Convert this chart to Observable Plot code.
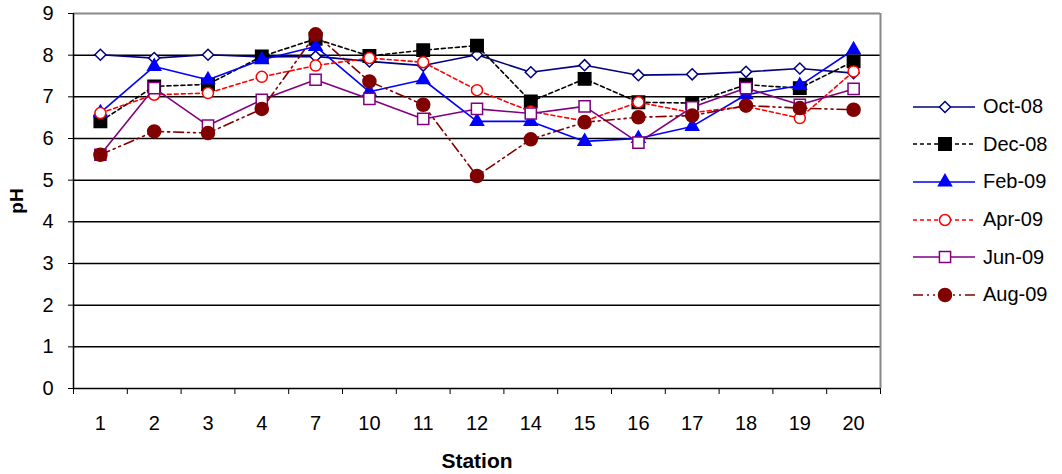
<!DOCTYPE html>
<html><head><meta charset="utf-8">
<script src="https://cdn.jsdelivr.net/npm/d3@7"></script>
<script src="https://cdn.jsdelivr.net/npm/@observablehq/plot@0.6"></script>
<style>
body{margin:0;background:#fff;font-family:"Liberation Sans",Arial,sans-serif;}
#wrap{position:relative;width:1062px;height:474px;overflow:hidden;}
#legend{position:absolute;left:913px;top:88px;}
.row{display:flex;align-items:center;height:37.6px;font-size:20px;color:#000;}
.row svg{margin-right:6px;}
g[aria-label="y-axis label"] text{font-weight:bold;font-size:19px;}
g[aria-label="x-axis label"] text{font-weight:bold;font-size:21px;}
</style></head><body><div id="wrap"></div>
<script>
const stations = ["1","2","3","4","7","10","11","12","14","15","16","17","18","19","20"];
const oct08 = [8.01,7.93,8.01,7.96,7.97,7.85,7.75,8.01,7.59,7.76,7.52,7.54,7.60,7.68,7.57];
const dec08 = [6.41,7.25,7.30,7.97,8.39,7.98,8.12,8.23,6.89,7.43,6.87,6.85,7.29,7.21,7.85];
const feb09 = [6.62,7.73,7.41,7.89,8.21,7.12,7.41,6.41,6.41,5.93,6.00,6.29,7.05,7.27,8.13];
const apr09 = [6.61,7.05,7.09,7.48,7.75,7.93,7.83,7.16,6.65,6.42,6.87,6.62,6.77,6.49,7.61];
const jun09 = [5.61,7.21,6.31,6.93,7.41,6.95,6.47,6.71,6.60,6.77,5.90,6.75,7.21,6.81,7.19];
const aug09 = [5.61,6.17,6.13,6.71,8.50,7.37,6.81,5.10,5.98,6.39,6.51,6.55,6.79,6.73,6.69];
const seriesNames = ["Oct-08","Dec-08","Feb-09","Apr-09","Jun-09","Aug-09"];
const seriesValues = [oct08, dec08, feb09, apr09, jun09, aug09];
const yTicks = [0,1,2,3,4,5,6,7,8,9];

const colors = ["#000080","#000000","#0000FF","#FF0000","#800080","#800000"];
const dashes = [null,"4,3",null,"4,3",null,"10,4,2,4,2,4"];
const symbols = ["diamond2","square","triangle","circle","square","circle"];
const fills = ["#fff","#000","#0000FF","#fff","#fff","#800000"];
const radii = [5,7,4.8,5.5,6.3,6.5];

const seriesMarks = [];
seriesValues.forEach((vals, s) => {
  const data = vals.map((v, i) => ({i, v}));
  seriesMarks.push(Plot.line(data, {x:"i", y:"v", stroke:colors[s], strokeWidth:1.6, strokeDasharray:dashes[s] || undefined}));
  seriesMarks.push(Plot.dot(data, {x:"i", y:"v", symbol:symbols[s], r:radii[s], fill:fills[s], stroke:colors[s], strokeWidth:1.5}));
});

const chart = Plot.plot({
  width:1062, height:474,
  marginLeft:73, marginRight:182, marginTop:13, marginBottom:86,
  style:{fontFamily:'"Liberation Sans",Arial,sans-serif', fontSize:"20px", color:"#000", background:"#fff"},
  x:{type:"linear", domain:[-0.5, stations.length-0.5]},
  y:{domain:[0,9]},
  marks:[
    Plot.ruleY(yTicks.filter(t => t > 0 && t < 9), {stroke:"#000", strokeWidth:1.5}),
    Plot.ruleY([9], {stroke:"#888", strokeWidth:2}),
    Plot.ruleX([stations.length-0.5], {stroke:"#888", strokeWidth:2}),
    Plot.ruleY([0], {stroke:"#000", strokeWidth:1.5}),
    Plot.ruleX([-0.5], {stroke:"#000", strokeWidth:1.5}),
    Plot.axisY({ticks:yTicks, tickSize:5, tickPadding:15, fontSize:20, label:"pH", labelAnchor:"center", labelArrow:"none", labelOffset:64}),
    Plot.axisX({ticks:d3.range(stations.length), tickSize:0, tickPadding:27, fontSize:20, tickFormat:i => stations[i], label:null}),
    Plot.axisX({ticks:d3.range(-0.5, stations.length, 1), tickSize:6, tickFormat:() => "", fontSize:20, label:"Station", labelAnchor:"center", labelArrow:"none", labelOffset:79}),
    ...seriesMarks
  ]
});
const wrap = document.getElementById("wrap");
wrap.appendChild(chart);

const legend = document.createElement("div");
legend.id = "legend";
seriesNames.forEach((name, s) => {
  const row = document.createElement("div");
  row.className = "row";
  const svg = d3.create("svg").attr("width", 64).attr("height", 20);
  svg.append("line").attr("x1",0).attr("x2",62).attr("y1",10).attr("y2",10)
    .attr("stroke", colors[s]).attr("stroke-width",1.6).attr("stroke-dasharray", dashes[s]);
  if (symbols[s] === "circle") {
    svg.append("circle").attr("cx",32).attr("cy",10).attr("r",radii[s])
      .attr("fill",fills[s]).attr("stroke",colors[s]).attr("stroke-width",1.5);
  } else {
    const sym = {diamond2:d3.symbolDiamond2, square:d3.symbolSquare, triangle:d3.symbolTriangle}[symbols[s]];
    svg.append("path").attr("transform","translate(32,10)")
      .attr("d", d3.symbol(sym, Math.PI*radii[s]*radii[s])())
      .attr("fill",fills[s]).attr("stroke",colors[s]).attr("stroke-width",1.5);
  }
  row.appendChild(svg.node());
  const t = document.createElement("span");
  t.textContent = name;
  row.appendChild(t);
  legend.appendChild(row);
});
wrap.appendChild(legend);
</script></body></html>
